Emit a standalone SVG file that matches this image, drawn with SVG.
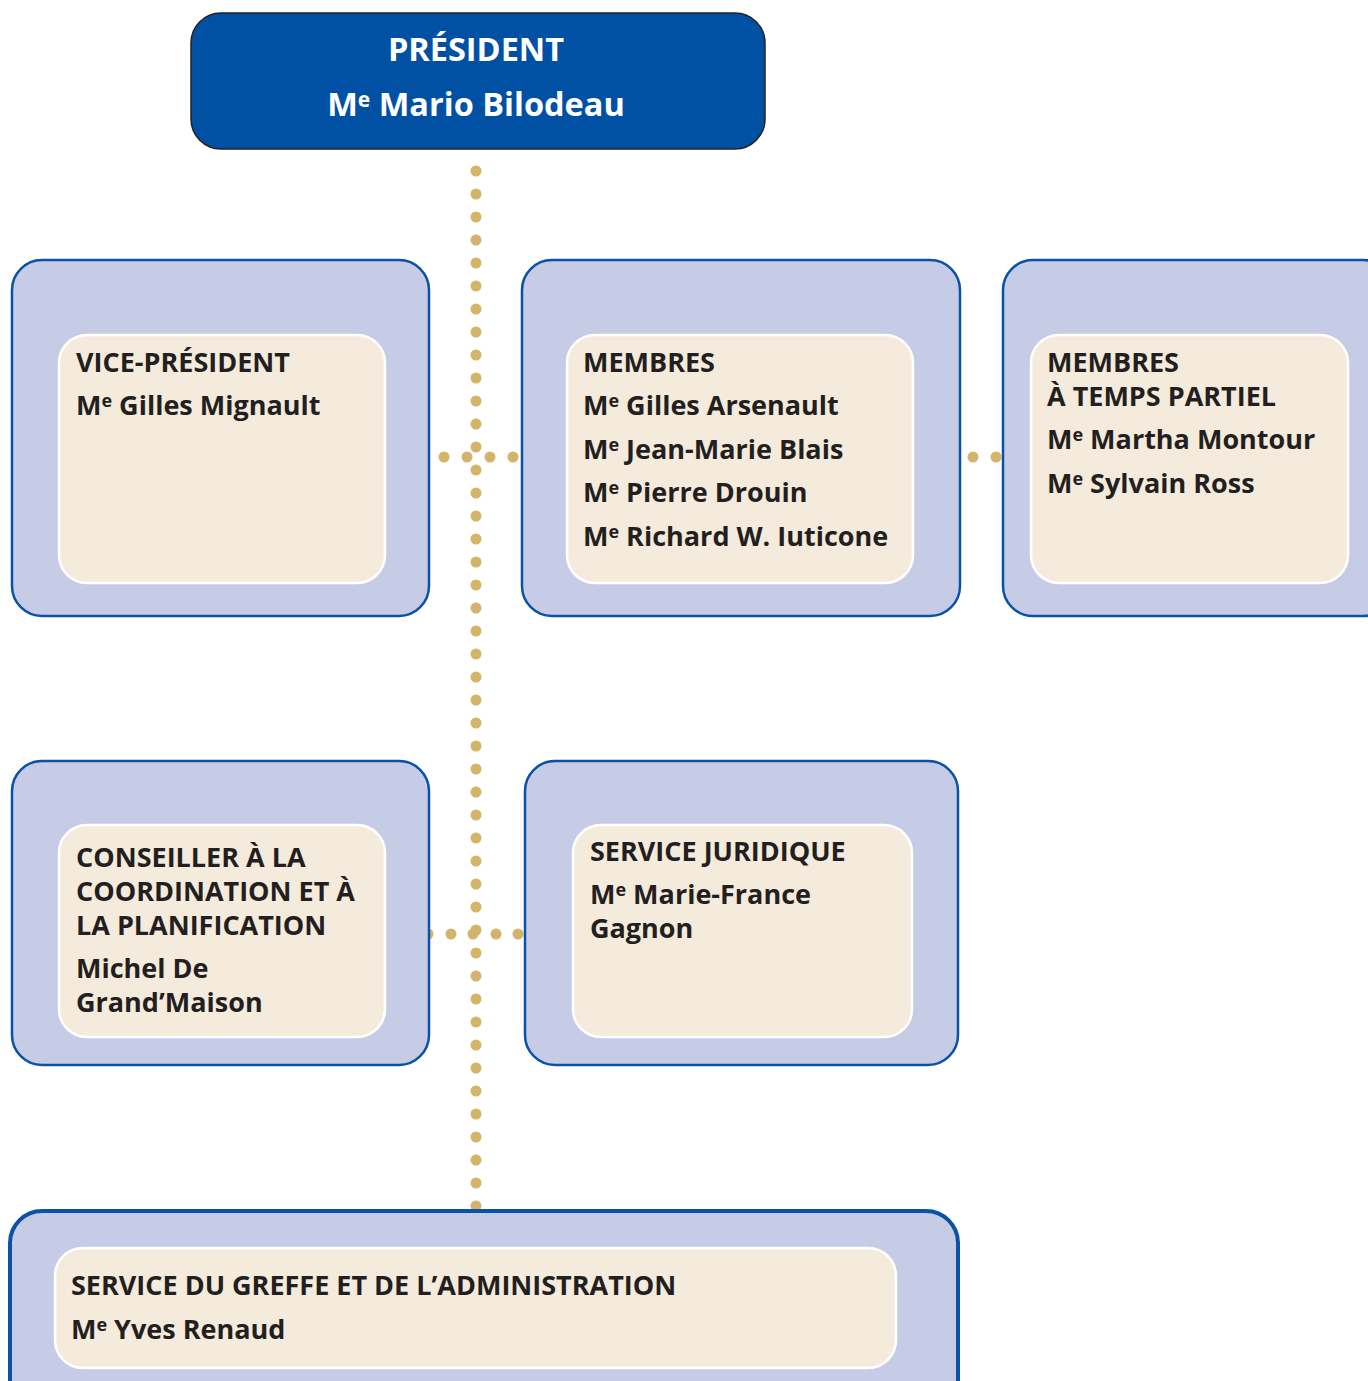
<svg xmlns="http://www.w3.org/2000/svg" width="1368" height="1381" viewBox="0 0 1368 1381">
<style>
.outer{fill:#C7CCE6;stroke:#0A52A5;stroke-width:2.5}
.inner{fill:#F4EBDC;stroke:#FFFFFF;stroke-width:2.5}
.t{font-family:"Open Sans","Noto Sans",sans-serif;font-weight:700;font-size:27px;fill:#231F20}
.pt{font-family:"Open Sans","Noto Sans",sans-serif;font-weight:700;font-size:32.5px;fill:#FFFFFF;text-anchor:middle}
.dot{fill:#D4B36A}
</style>
<defs>
<circle id="d" r="5.5" class="dot"/>
</defs>
<rect width="1368" height="1381" fill="#FFFFFF"/>
<g id="connectors">
<g id="vline">
<use href="#d" x="476" y="171"/><use href="#d" x="476" y="194"/><use href="#d" x="476" y="217"/><use href="#d" x="476" y="240"/><use href="#d" x="476" y="263"/><use href="#d" x="476" y="286"/><use href="#d" x="476" y="309"/><use href="#d" x="476" y="332"/><use href="#d" x="476" y="355"/><use href="#d" x="476" y="378"/><use href="#d" x="476" y="401"/><use href="#d" x="476" y="424"/><use href="#d" x="476" y="447"/><use href="#d" x="476" y="470"/><use href="#d" x="476" y="493"/><use href="#d" x="476" y="516"/><use href="#d" x="476" y="539"/><use href="#d" x="476" y="562"/><use href="#d" x="476" y="585"/><use href="#d" x="476" y="608"/><use href="#d" x="476" y="631"/><use href="#d" x="476" y="654"/><use href="#d" x="476" y="677"/><use href="#d" x="476" y="700"/><use href="#d" x="476" y="723"/><use href="#d" x="476" y="746"/><use href="#d" x="476" y="769"/><use href="#d" x="476" y="792"/><use href="#d" x="476" y="815"/><use href="#d" x="476" y="838"/><use href="#d" x="476" y="861"/><use href="#d" x="476" y="884"/><use href="#d" x="476" y="907"/><use href="#d" x="476" y="930"/><use href="#d" x="476" y="953"/><use href="#d" x="476" y="976"/><use href="#d" x="476" y="999"/><use href="#d" x="476" y="1022"/><use href="#d" x="476" y="1045"/><use href="#d" x="476" y="1068"/><use href="#d" x="476" y="1091"/><use href="#d" x="476" y="1114"/><use href="#d" x="476" y="1137"/><use href="#d" x="476" y="1160"/><use href="#d" x="476" y="1183"/><use href="#d" x="476" y="1206"/>
</g>
<g id="h1">
<use href="#d" x="444" y="457"/><use href="#d" x="467" y="457"/><use href="#d" x="490" y="457"/><use href="#d" x="513" y="457"/>
</g>
<g id="h2">
<use href="#d" x="973" y="457"/><use href="#d" x="996" y="457"/>
</g>
<g id="h3">
<use href="#d" x="428" y="934"/><use href="#d" x="451" y="934"/><use href="#d" x="473" y="934"/><use href="#d" x="496" y="934"/><use href="#d" x="518" y="934"/>
</g>
</g>
<g id="president">
<rect x="191" y="13" width="574" height="136" rx="30" fill="#0050A4" stroke="#222" stroke-width="1.5"/>
<text class="pt" x="476" y="61">PRÉSIDENT</text>
<text class="pt" x="476" y="116">M<tspan font-size="21" dy="-9">e</tspan><tspan dy="9"> Mario Bilodeau</tspan></text>
</g>
<g id="vice-president">
<rect class="outer" x="12" y="260" width="417" height="356" rx="30"/>
<rect class="inner" x="59" y="335" width="326" height="248" rx="28"/>
<text class="t" x="76" y="372">VICE-PRÉSIDENT</text>
<text class="t" x="76" y="415">M<tspan font-size="18" dy="-8">e</tspan><tspan dy="8"> Gilles Mignault</tspan></text>
</g>
<g id="membres">
<rect class="outer" x="522" y="260" width="438" height="356" rx="30"/>
<rect class="inner" x="567" y="335" width="346" height="248" rx="28"/>
<text class="t" x="583" y="372">MEMBRES</text>
<text class="t" x="583" y="415">M<tspan font-size="18" dy="-8">e</tspan><tspan dy="8"> Gilles Arsenault</tspan></text>
<text class="t" x="583" y="459">M<tspan font-size="18" dy="-8">e</tspan><tspan dy="8"> Jean-Marie Blais</tspan></text>
<text class="t" x="583" y="502">M<tspan font-size="18" dy="-8">e</tspan><tspan dy="8"> Pierre Drouin</tspan></text>
<text class="t" x="583" y="546">M<tspan font-size="18" dy="-8">e</tspan><tspan dy="8"> Richard W. Iuticone</tspan></text>
</g>
<g id="membres-temps-partiel">
<rect class="outer" x="1003" y="260" width="390" height="356" rx="30"/>
<rect class="inner" x="1031" y="335" width="317" height="248" rx="28"/>
<text class="t" x="1047" y="372">MEMBRES</text>
<text class="t" x="1047" y="406">À TEMPS PARTIEL</text>
<text class="t" x="1047" y="449">M<tspan font-size="18" dy="-8">e</tspan><tspan dy="8"> Martha Montour</tspan></text>
<text class="t" x="1047" y="493">M<tspan font-size="18" dy="-8">e</tspan><tspan dy="8"> Sylvain Ross</tspan></text>
</g>
<g id="conseiller">
<rect class="outer" x="12" y="761" width="417" height="304" rx="30"/>
<rect class="inner" x="59" y="825" width="326" height="212" rx="28"/>
<text class="t" x="76" y="867">CONSEILLER À LA</text>
<text class="t" x="76" y="901">COORDINATION ET À</text>
<text class="t" x="76" y="935">LA PLANIFICATION</text>
<text class="t" x="76" y="978">Michel De</text>
<text class="t" x="76" y="1012">Grand’Maison</text>
</g>
<g id="service-juridique">
<rect class="outer" x="525" y="761" width="433" height="304" rx="30"/>
<rect class="inner" x="573" y="825" width="339" height="212" rx="28"/>
<text class="t" x="590" y="861">SERVICE JURIDIQUE</text>
<text class="t" x="590" y="904">M<tspan font-size="18" dy="-8">e</tspan><tspan dy="8"> Marie-France</tspan></text>
<text class="t" x="590" y="938">Gagnon</text>
</g>
<g id="service-greffe">
<rect x="10" y="1211" width="948" height="200" rx="32" fill="#C7CCE6" stroke="#0A52A5" stroke-width="4"/>
<rect class="inner" x="55" y="1248" width="841" height="120" rx="28"/>
<text class="t" x="71" y="1295">SERVICE DU GREFFE ET DE L’ADMINISTRATION</text>
<text class="t" x="71" y="1339">M<tspan font-size="18" dy="-8">e</tspan><tspan dy="8"> Yves Renaud</tspan></text>
</g>
</svg>
